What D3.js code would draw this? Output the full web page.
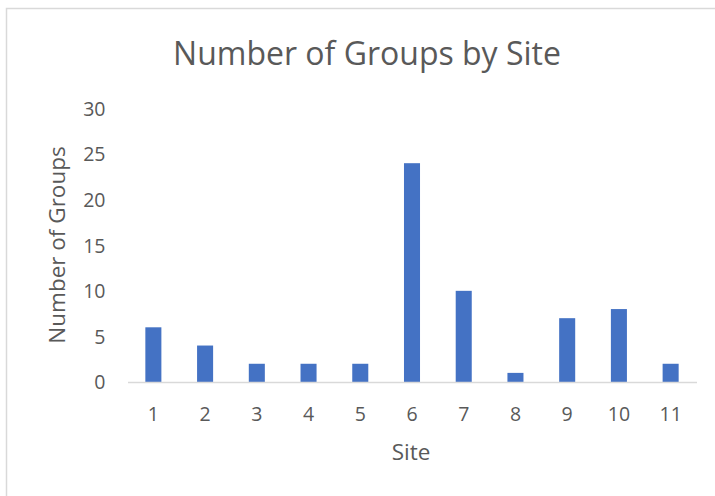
<!DOCTYPE html>
<html>
<head>
<meta charset="utf-8">
<script src="https://cdn.jsdelivr.net/npm/d3@7"></script>
<style>
  html, body { margin: 0; padding: 0; background: #fff; }
  svg { display: block; }
  text { font-family: "Open Sans", sans-serif; fill: #595959; }
</style>
</head>
<body>
<script>
// Number of groups recorded at each site
const sites = ["1", "2", "3", "4", "5", "6", "7", "8", "9", "10", "11"];
const groupCounts = [6, 4, 2, 2, 2, 24, 10, 1, 7, 8, 2];
const yTicks = [0, 5, 10, 15, 20, 25, 30];

const W = 715, H = 496;
const svg = d3.select("body").append("svg").attr("width", W).attr("height", H);

// chart frame (extends past the right and bottom edges)
svg.append("rect")
  .attr("x", 6.5).attr("y", 8.5)
  .attr("width", 730).attr("height", 500)
  .attr("fill", "#fff").attr("stroke", "#d9d9d9").attr("stroke-width", 1.5);

const plot = { left: 127.5, right: 696.5, top: 108.5, bottom: 382 };

const x = d3.scaleBand().domain(sites).range([plot.left, plot.right]).paddingInner(0.69).paddingOuter(0.345);
const y = d3.scaleLinear().domain([0, 30]).range([plot.bottom, plot.top]);

// title
svg.append("text")
  .attr("x", 367).attr("y", 65)
  .attr("text-anchor", "middle")
  .style("font-size", "32px")
  .text("Number of Groups by Site");

// bars
svg.append("g").selectAll("rect")
  .data(groupCounts)
  .join("rect")
  .attr("x", (d, i) => x(sites[i]))
  .attr("width", x.bandwidth())
  .attr("y", d => y(d))
  .attr("height", d => y(0) - y(d))
  .attr("fill", "#4472c4");

// y axis labels (no line, no ticks)
const yAxis = svg.append("g")
  .attr("transform", `translate(${plot.left},0)`)
  .call(d3.axisLeft(y).tickValues(yTicks).tickSize(0).tickPadding(22));
yAxis.select(".domain").remove();
yAxis.selectAll("text").style("font-size", "19.5px").attr("fill", "#595959").attr("dy", "0.35em");

// x axis
const xAxis = svg.append("g")
  .attr("transform", `translate(0,${plot.bottom})`)
  .call(d3.axisBottom(x).tickSize(0).tickPadding(25));
xAxis.select(".domain").attr("stroke", "#d9d9d9").attr("stroke-width", 1.5);
xAxis.selectAll("text").style("font-size", "19.5px").attr("fill", "#595959");

// axis titles
svg.append("text")
  .attr("x", 411).attr("y", 460)
  .attr("text-anchor", "middle")
  .style("font-size", "22.5px")
  .text("Site");

svg.append("text")
  .attr("transform", "translate(65,245) rotate(-90)")
  .attr("text-anchor", "middle")
  .style("font-size", "22.5px")
  .text("Number of Groups");
</script>
</body>
</html>
